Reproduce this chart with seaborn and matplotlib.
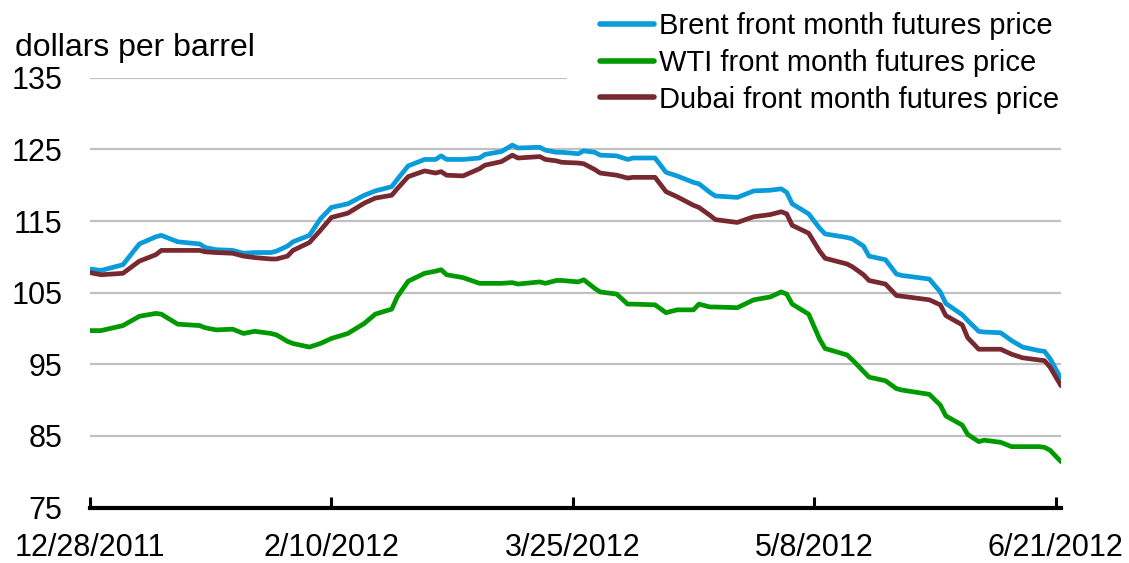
import matplotlib
matplotlib.use("Agg")
import matplotlib.pyplot as plt
from matplotlib.lines import Line2D
import numpy as np
import pandas as pd
import seaborn as sns

# ---------------- data ----------------
start_date = "2011-12-28"
day_offsets = [0, 2, 6, 9, 12, 13, 16, 20, 21, 23, 26, 28, 30, 33, 34, 36, 37, 40, 42, 44,
               47, 50, 52, 55, 56, 58, 61, 63, 64, 65, 68, 71, 72, 75, 77, 78, 82, 83, 85, 86,
               89, 90, 92, 93, 96, 98, 99, 103, 105, 107, 110, 111, 113, 114, 118, 121, 124, 126, 127, 128,
               131, 133, 134, 138, 139, 141, 142, 145, 147, 148, 153, 155, 156, 159, 160, 162, 163, 166, 168, 170,
               173, 174, 175, 177]

brent = [108.3, 108.1, 108.9, 111.8, 112.8, 113.0, 112.1, 111.8, 111.3, 111.0, 110.9, 110.5, 110.6, 110.6, 110.8, 111.5, 112.1, 113.0, 115.3, 116.9,
         117.4, 118.6, 119.2, 119.8, 120.8, 122.7, 123.6, 123.6, 124.1, 123.6, 123.6, 123.8, 124.3, 124.7, 125.6, 125.2, 125.3, 124.9, 124.6, 124.6,
         124.4, 124.8, 124.6, 124.2, 124.1, 123.6, 123.8, 123.8, 121.8, 121.3, 120.4, 120.2, 119.0, 118.5, 118.3, 119.2, 119.3, 119.5, 119.0, 117.4,
         116.0, 114.0, 113.2, 112.7, 112.5, 111.5, 110.1, 109.6, 107.6, 107.4, 106.9, 105.1, 103.5, 101.9, 101.1, 99.6, 99.5, 99.4, 98.3, 97.4,
         96.9, 96.8, 95.8, 93.0]

wti = [99.7, 99.7, 100.4, 101.7, 102.1, 102.0, 100.6, 100.4, 100.1, 99.8, 99.9, 99.3, 99.6, 99.3, 99.1, 98.2, 97.9, 97.4, 97.9, 98.6,
       99.3, 100.7, 102.0, 102.7, 104.4, 106.6, 107.7, 108.0, 108.2, 107.5, 107.1, 106.3, 106.3, 106.3, 106.4, 106.2, 106.5, 106.3, 106.7, 106.7,
       106.5, 106.8, 105.6, 105.1, 104.8, 103.4, 103.4, 103.3, 102.2, 102.6, 102.6, 103.4, 103.0, 103.0, 102.9, 104.0, 104.4, 105.1, 104.8, 103.4,
       102.0, 98.5, 97.2, 96.3, 95.6, 94.0, 93.2, 92.7, 91.6, 91.4, 90.8, 89.3, 87.8, 86.5, 85.2, 84.2, 84.4, 84.1, 83.5, 83.5,
       83.5, 83.4, 83.0, 81.4]

dubai = [107.8, 107.5, 107.7, 109.4, 110.3, 110.9, 110.9, 110.9, 110.7, 110.6, 110.5, 110.1, 109.9, 109.7, 109.7, 110.1, 110.9, 112.0, 113.7, 115.5,
         116.1, 117.5, 118.2, 118.6, 119.5, 121.2, 122.0, 121.7, 121.9, 121.4, 121.3, 122.3, 122.8, 123.3, 124.2, 123.8, 124.0, 123.6, 123.4, 123.2,
         123.1, 123.0, 122.2, 121.7, 121.4, 121.0, 121.1, 121.1, 119.1, 118.4, 117.2, 116.9, 115.8, 115.2, 114.8, 115.6, 115.9, 116.3, 116.0, 114.4,
         113.3, 110.8, 109.8, 109.0, 108.6, 107.5, 106.7, 106.2, 104.6, 104.5, 104.0, 103.3, 101.8, 100.5, 98.7, 97.1, 97.1, 97.1, 96.4, 95.9,
         95.6, 95.5, 94.6, 92.0]

series_names = ["Brent front month futures price",
                "WTI front month futures price",
                "Dubai front month futures price"]
series_colors = ["#0A9BDB", "#009A00", "#772830"]

xtick_offsets = [0, 44, 88, 132, 176]
xtick_labels = ["12/28/2011", "2/10/2012", "3/25/2012", "5/8/2012", "6/21/2012"]
yticks = [75, 85, 95, 105, 115, 125, 135]
y_label = "dollars per barrel"

# ---------------- build frame ----------------
start = pd.Timestamp(start_date)
dates = start + pd.to_timedelta(day_offsets, unit="D")
df = pd.concat([
    pd.DataFrame({"date": dates, "price": vals, "series": name})
    for name, vals in zip(series_names, [brent, wti, dubai])
], ignore_index=True)

# ---------------- plot ----------------
sns.set_theme(style="white")
plt.rcParams["font.family"] = ["Liberation Sans", "DejaVu Sans"]

fig = plt.figure(figsize=(11.29, 5.63), dpi=100)
ax = fig.add_axes([90 / 1129, 1 - 507.5 / 563, 971 / 1129, 429.7 / 563])

sns.lineplot(data=df, x="date", y="price", hue="series", hue_order=series_names,
             palette=series_colors, linewidth=3.4, estimator=None, legend=False, ax=ax,
             zorder=3)
for ln in ax.get_lines():
    ln.set_solid_joinstyle("round")

ax.set_xlim(start, start + pd.Timedelta(days=177))
ax.set_ylim(yticks[0], yticks[-1])

# gridlines (top one stops where the legend box begins)
for v in yticks[1:]:
    ax.axhline(v, xmin=0, xmax=(0.49 if v == yticks[-1] else 1.0),
               color="#C0C0C0", linewidth=1.6, zorder=1)

ax.set_xticks(start + pd.to_timedelta(xtick_offsets, unit="D"))
ax.set_xticklabels(xtick_labels)
ax.set_yticks(yticks)
ax.set_yticklabels([str(v) for v in yticks])
ax.set_xlabel("")
ax.set_ylabel("")

ax.tick_params(axis="x", bottom=True, direction="in", length=8, width=2.2, color="black",
               pad=18, labelsize=22, labelcolor="black")
ax.tick_params(axis="y", left=False, length=0, pad=20, labelsize=22, labelcolor="black")

for s in ["top", "right", "left"]:
    ax.spines[s].set_visible(False)
ax.spines["bottom"].set_color("black")
ax.spines["bottom"].set_linewidth(3)
ax.spines["bottom"].set_zorder(4)

fig.text(15 / 1129, 1 - 56 / 563, y_label, fontsize=23, ha="left", va="baseline",
         color="black")

handles = [Line2D([], [], color=c, linewidth=4, solid_capstyle="round") for c in series_colors]
ax.legend(handles, series_names, loc="upper left",
          bbox_to_anchor=(600 / 1129, 1 - 12 / 563), bbox_transform=fig.transFigure,
          frameon=False, fontsize=21, handlelength=1.85, handletextpad=0.18,
          labelspacing=0.3, borderpad=0, borderaxespad=0, labelcolor="black")

fig.savefig("out.png", dpi=100)
